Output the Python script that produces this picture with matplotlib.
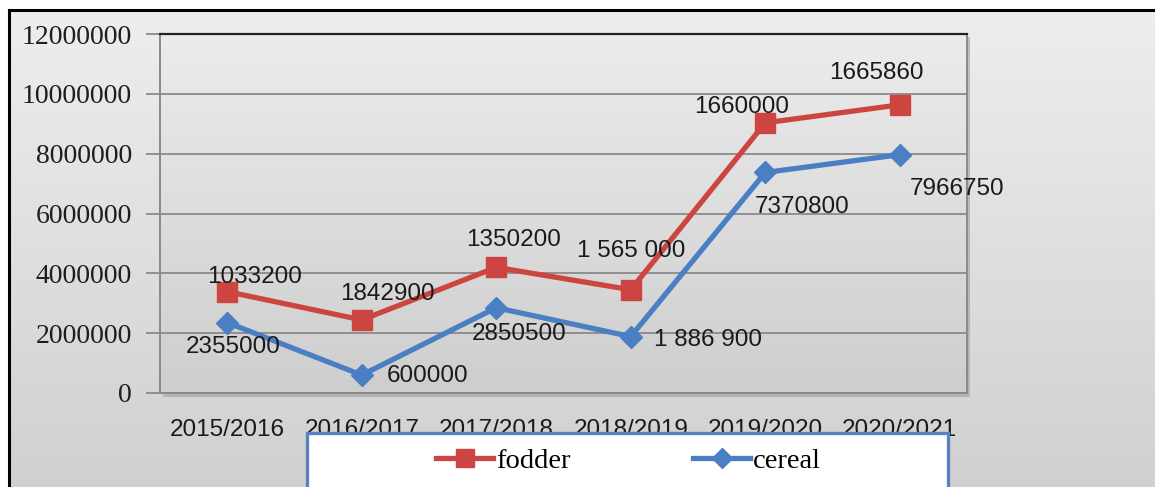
import numpy as np
import matplotlib
matplotlib.use('Agg')
import matplotlib.pyplot as plt
from matplotlib.patches import Rectangle
from matplotlib.lines import Line2D

W, H, DPI = 1155, 487, 100

seasons = ['2015/2016', '2016/2017', '2017/2018', '2018/2019', '2019/2020', '2020/2021']
cereal = [2355000, 600000, 2850500, 1886900, 7370800, 7966750]
fodder = [1033200, 1842900, 1350200, 1565000, 1660000, 1665860]
# the 2018/2019 labels are printed with thousands spaces
spaced = [False, False, False, True, False, False]
yticks = [0, 2000000, 4000000, 6000000, 8000000, 10000000, 12000000]

RED = '#cc4541'
BLUE = '#4a7fc4'
SANS = 'Liberation Sans'
SERIF = 'Liberation Serif'


def fmt(v, sp):
    return f'{v:,}'.replace(',', ' ') if sp else str(v)


def px(x0, y0, x1, y1):
    # pixel box (from top-left) -> figure fraction rect
    return [x0 / W, 1 - y1 / H, (x1 - x0) / W, (y1 - y0) / H]


def gradient(ax, top, bottom, **kw):
    g = np.linspace(0, 1, 256)[:, None]
    c = np.array(top)[None, :] * (1 - g) + np.array(bottom)[None, :] * g
    img = np.repeat(c[:, None, :], 2, axis=1) / 255.0
    ax.imshow(img, extent=[0, 1, 0, 1], transform=ax.transAxes,
              aspect='auto', interpolation='bilinear', **kw)


fig = plt.figure(figsize=(W / DPI, H / DPI), dpi=DPI, facecolor='white')

# outer chart frame with grey gradient
bg = fig.add_axes(px(9, 10, W + 5, H + 5), zorder=-10)
gradient(bg, (238, 238, 238), (208, 208, 208))
bg.set_xticks([]); bg.set_yticks([])
for s in ['right', 'bottom']:
    bg.spines[s].set_visible(False)
for s in ['left', 'top']:
    bg.spines[s].set_color('black')
    bg.spines[s].set_linewidth(2.2)

# drop shadow behind the plot area
fig.patches.append(Rectangle((163 / W, 1 - 397 / H), 807 / W, 360 / H,
                             transform=fig.transFigure, facecolor='#9a9a9a',
                             alpha=0.55, edgecolor='none', zorder=-5))

ax = fig.add_axes(px(160, 34, 967, 393))
gradient(ax, (236, 236, 236), (206, 206, 206), zorder=0)

x = np.arange(len(seasons))
fodder_top = [c + f for c, f in zip(cereal, fodder)]

ax.plot(x, fodder_top, color=RED, lw=3.8, marker='s', ms=14.5,
        solid_joinstyle='miter', zorder=3, label='fodder')
ax.plot(x, cereal, color=BLUE, lw=3.8, marker='D', ms=11.5,
        solid_joinstyle='miter', zorder=3, label='cereal')

fod_off = [(27, 15), (26, 26), (17, 27), (0, 39), (-24, 16), (-23, 32)]
cer_off = [(6, -24), (66, -1), (23, -26), (77, -3), (37, -35), (57, -34)]
for i in range(len(seasons)):
    ax.annotate(fmt(fodder[i], spaced[i]), (x[i], fodder_top[i]),
                xytext=fod_off[i], textcoords='offset pixels',
                ha='center', va='center', fontsize=17.5, family=SANS,
                color='#1a1a1a', zorder=5)
    ax.annotate(fmt(cereal[i], spaced[i]), (x[i], cereal[i]),
                xytext=cer_off[i], textcoords='offset pixels',
                ha='center', va='center', fontsize=17.5, family=SANS,
                color='#1a1a1a', zorder=5)

ax.set_xlim(-0.5, len(seasons) - 0.5)
ax.set_ylim(0, 12000000)
ax.set_yticks(yticks)
ax.set_yticklabels([str(v) for v in yticks], fontfamily=SERIF, fontsize=20,
                   color='#1e1e1e')
ax.set_xticks(x)
ax.set_xticklabels(seasons, fontfamily=SANS, fontsize=17.5, color='#1a1a1a')
ax.tick_params(axis='y', length=10, width=1.3, color='#8a8a8a', pad=10)
ax.tick_params(axis='x', length=0, pad=19)
ax.grid(axis='y', color='#8a8a8a', lw=1.3, zorder=1)
ax.set_axisbelow(True)

for s in ['left', 'right', 'bottom']:
    ax.spines[s].set_color('#8a8a8a')
    ax.spines[s].set_linewidth(1.4)
ax.spines['top'].set_color('#222222')
ax.spines['top'].set_linewidth(1.6)

# legend box, running off the bottom edge
fig.patches.append(Rectangle((307 / W, -0.05), (948 - 307) / W, 0.05 + 1 - 433 / H,
                             transform=fig.transFigure, facecolor='white',
                             edgecolor='#5a82c0', lw=2.4, zorder=4))
handles = [Line2D([], [], color=RED, lw=3.8, marker='s', ms=13),
           Line2D([], [], color=BLUE, lw=3.8, marker='D', ms=10)]
leg = fig.legend(handles, ['fodder', 'cereal'], loc='center left',
                 bbox_to_anchor=(425 / W, 1 - 461 / H), ncol=2, frameon=False,
                 prop={'family': SERIF, 'size': 20.5}, handlelength=2.0,
                 handletextpad=0.1, columnspacing=4.3, borderaxespad=0)
leg.set_zorder(6)

fig.savefig('out.png', dpi=DPI)
